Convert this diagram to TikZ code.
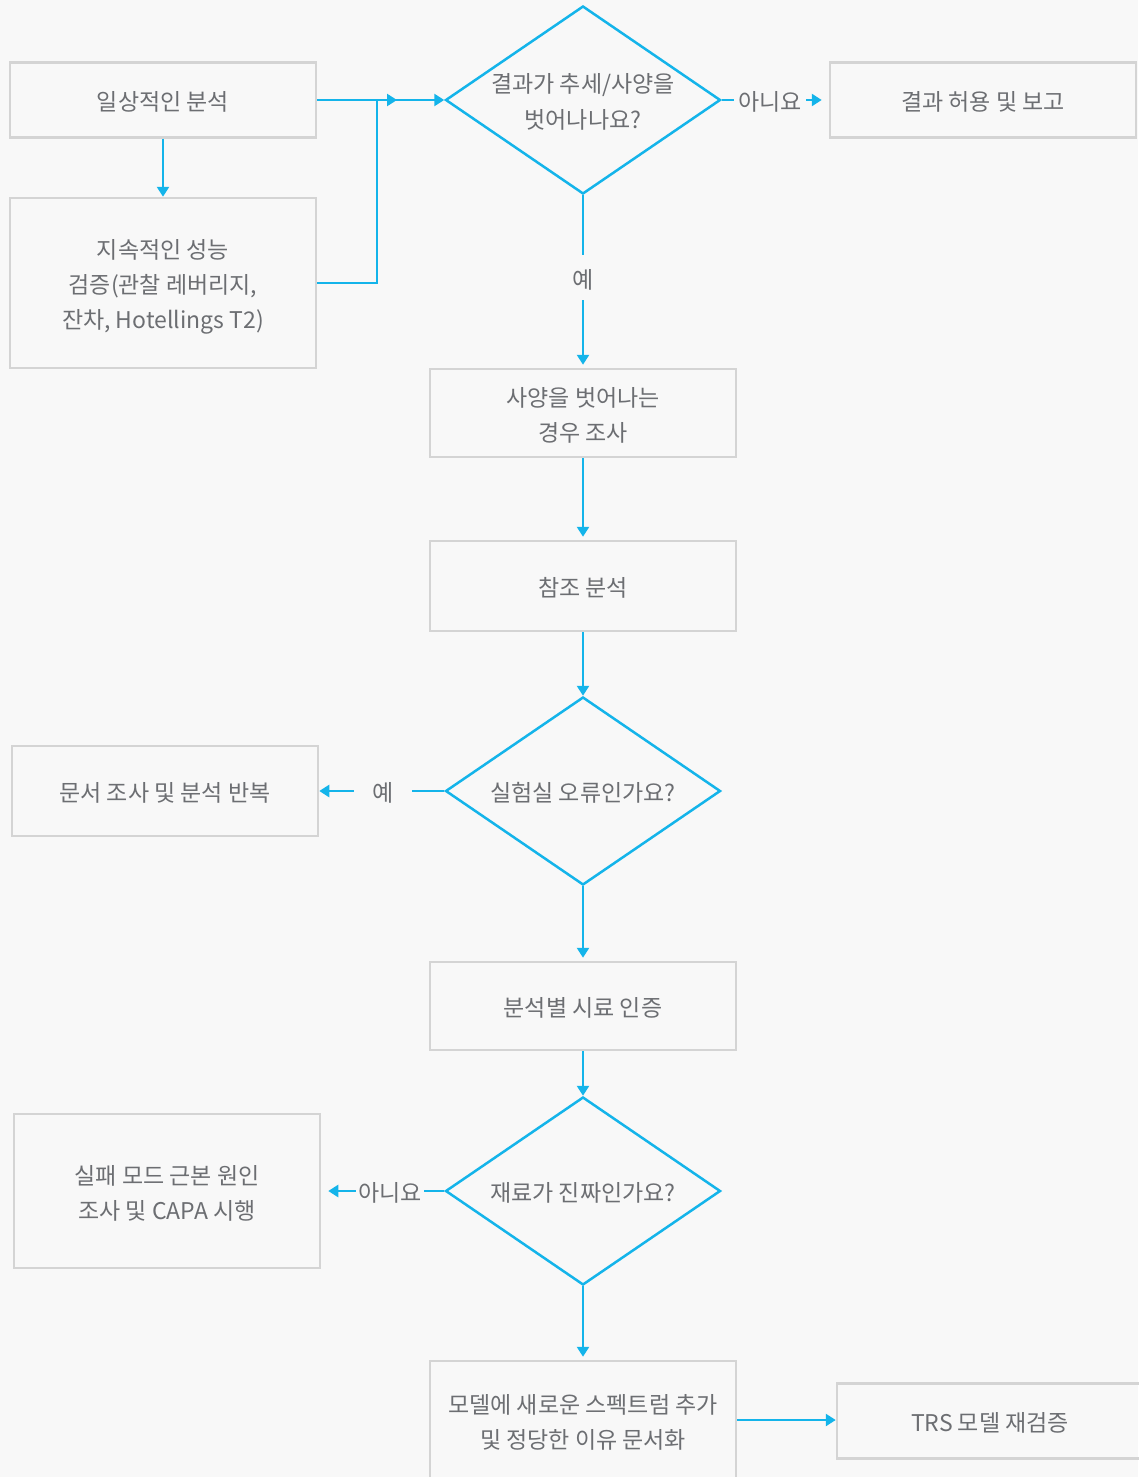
\documentclass[tikz,border=0pt]{standalone}
\usepackage{fontspec}
\setmainfont{Noto Sans CJK KR}
\usetikzlibrary{shapes.geometric,arrows.meta}
\definecolor{bgcol}{RGB}{248,248,248}
\definecolor{linecol}{RGB}{20,180,234}
\definecolor{boxcol}{RGB}{212,212,212}
\definecolor{txtcol}{RGB}{108,110,114}

% centred lines, set a little lower without changing the box size
\newcommand{\mtext}[1]{\raisebox{-3.5pt}[\height][\depth]{\begin{tabular}{@{}c@{}}#1\end{tabular}}}

\begin{document}
\begin{tikzpicture}[x=1pt,y=-1pt,
  every node/.style={font=\fontsize{23}{35}\selectfont, text=txtcol},
  box/.style={draw=boxcol, line width=2.5pt, rectangle, minimum width=306pt,
    align=center, inner sep=0pt},
  decision/.style={draw=linecol, line width=2.5pt, diamond, minimum width=275pt,
    minimum height=188pt, inner sep=-20pt, aspect=1.46, align=center},
  flow/.style={draw=linecol, line width=2.5pt, -{Triangle[length=10pt,width=12pt]}},
  lbl/.style={fill=bgcol, inner sep=5pt, pos=0.5},
]
% canvas
\fill[bgcol] (0,0) rectangle (1138,1477);
\useasboundingbox (0,0) rectangle (1138,1477);

% process boxes
\node[box, minimum height=75pt]  (A) at (163,100)  {\mtext{일상적인 분석}};
\node[box, minimum height=170pt] (B) at (163,283)  {\mtext{지속적인 성능\\검증(관찰 레버리지,\\잔차, Hotellings T2)}};
\node[box, minimum height=75pt]  (C) at (983,100)  {\mtext{결과 허용 및 보고}};
\node[box, minimum height=88pt]  (D) at (583,413)  {\mtext{사양을 벗어나는\\경우 조사}};
\node[box, minimum height=90pt]  (E) at (583,586)  {\mtext{참조 분석}};
\node[box, minimum height=90pt]  (F) at (165,791)  {\mtext{문서 조사 및 분석 반복}};
\node[box, minimum height=88pt]  (G) at (583,1006) {\mtext{분석별 시료 인증}};
\node[box, minimum height=154pt] (H) at (167,1191) {\mtext{실패 모드 근본 원인\\조사 및 CAPA 시행}};
\node[box, minimum height=118pt] (I) at (583,1420) {\mtext{모델에 새로운 스펙트럼 추가\\및 정당한 이유 문서화}};
\node[box, minimum height=75pt]  (J) at (990,1421) {\mtext{TRS 모델 재검증}};

% decisions
\node[decision] (Q1) at (583,100)  {\mtext{결과가 추세/사양을\\벗어나나요?}};
\node[decision] (Q2) at (583,791)  {\mtext{실험실 오류인가요?}};
\node[decision] (Q3) at (583,1191) {\mtext{재료가 진짜인가요?}};

% merge point of the two analysis streams
\coordinate (jx) at (377,0);
\coordinate (merge) at (397,100);

% connectors
\draw[flow] (A.south) -- (B.north);
\draw[flow] (A.east) -- (Q1.west);
\draw[flow] (B.east) -| (jx |- A.east) -- (merge);

\draw[flow, shorten >=7pt] (Q1.east) -- node[lbl, pos=0.45, inner xsep=4.5pt] {\mtext{아니요}} (C.west);
\draw[flow, shorten >=3pt] (Q1.south) -- node[lbl, pos=0.477] {\mtext{예}} (Q1.south |- D.north);

\draw[flow, shorten >=3pt] (D.south) -- (E.north);
\draw[flow] (E.south) -- (Q2.north);
\draw[flow] (Q2.west) -- node[lbl, pos=0.49, inner xsep=18pt] {\mtext{예}} (Q2.west -| F.east);
\draw[flow, shorten >=3pt] (Q2.south) -- (Q2.south |- G.north);

\draw[flow] (G.south) -- (Q3.north);
\draw[flow, shorten >=7pt] (Q3.west) -- node[lbl, pos=0.44, inner xsep=2.5pt] {\mtext{아니요}} (Q3.west -| H.east);
\draw[flow, shorten >=3pt] (Q3.south) -- (Q3.south |- I.north);

\draw[flow] (I.east) -- (I.east -| J.west);
\end{tikzpicture}
\end{document}
